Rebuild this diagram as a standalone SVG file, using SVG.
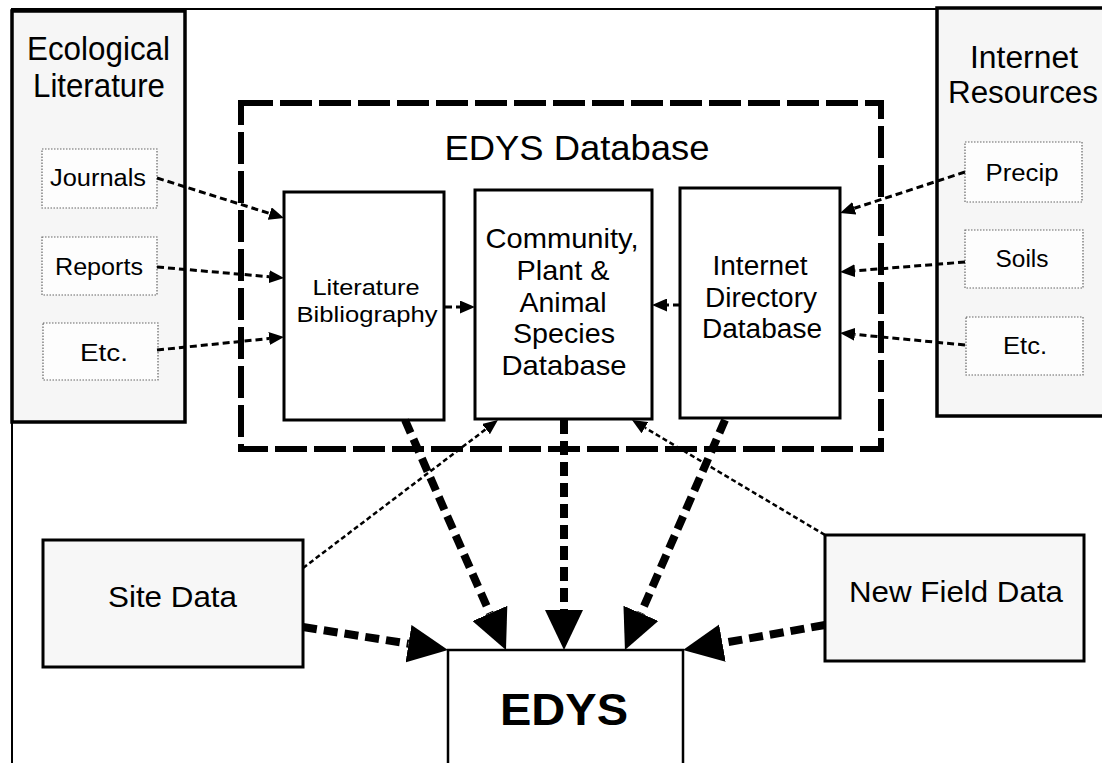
<svg xmlns="http://www.w3.org/2000/svg" width="1102" height="763" viewBox="0 0 1102 763">
<style>
.t{font-family:"Liberation Sans",Arial,sans-serif;fill:#000;text-anchor:middle}
.panel{fill:#f6f6f6;stroke:#000;stroke-width:3.5}
.src{fill:#fdfdfd;stroke:#666;stroke-width:1.2;stroke-dasharray:1.5 1.5}
.db{fill:#fff;stroke:#000;stroke-width:3}
.data{fill:#f7f7f7;stroke:#000;stroke-width:3}
.thin{fill:none;stroke:#000;stroke-width:3;stroke-dasharray:7 4}
.site{fill:none;stroke:#000;stroke-width:2.5;stroke-dasharray:5 3}
.thick{fill:none;stroke:#000;stroke-width:8;stroke-dasharray:14 7}
</style>
<defs>
<marker id="ah" markerUnits="userSpaceOnUse" markerWidth="15" markerHeight="13" viewBox="0 0 15 13" refX="0" refY="6.5" orient="auto"><path d="M0,0 L15,6.5 L0,13 z" fill="#000"/></marker>
<marker id="AH" markerUnits="userSpaceOnUse" markerWidth="40" markerHeight="38" viewBox="0 0 40 38" refX="0" refY="19" orient="auto"><path d="M0,0 L40,19 L0,38 z" fill="#000"/></marker>
</defs>
<rect width="1102" height="763" fill="#fff"/>
<g id="frame" fill="none" stroke="#000" stroke-width="2">
<path d="M12,763 L12,9 L1102,9"/>
</g>
<g id="ecological-literature">
<rect class="panel" x="12" y="11" width="173" height="411"/>
<text class="t" x="98.5" y="60" font-size="33" textLength="143" lengthAdjust="spacingAndGlyphs">Ecological</text>
<text class="t" x="99" y="97" font-size="33" textLength="132" lengthAdjust="spacingAndGlyphs">Literature</text>
</g>
<g id="journals"><rect class="src" x="42" y="149" width="115" height="59"/><text class="t" x="98" y="186" font-size="23" textLength="96" lengthAdjust="spacingAndGlyphs">Journals</text></g>
<g id="reports"><rect class="src" x="42" y="237" width="115" height="58"/><text class="t" x="99" y="275" font-size="23" textLength="88" lengthAdjust="spacingAndGlyphs">Reports</text></g>
<g id="etc-lit"><rect class="src" x="43" y="323" width="115" height="57"/><text class="t" x="104" y="361" font-size="23" textLength="48" lengthAdjust="spacingAndGlyphs">Etc.</text></g>
<g id="internet-resources">
<rect class="panel" x="937" y="8" width="175" height="408"/>
<text class="t" x="1024" y="68" font-size="31" textLength="108" lengthAdjust="spacingAndGlyphs">Internet</text>
<text class="t" x="1023" y="103" font-size="31" textLength="150" lengthAdjust="spacingAndGlyphs">Resources</text>
</g>
<g id="precip"><rect class="src" x="965" y="142" width="117" height="60"/><text class="t" x="1022" y="181" font-size="23" textLength="73" lengthAdjust="spacingAndGlyphs">Precip</text></g>
<g id="soils"><rect class="src" x="965" y="230" width="118" height="58"/><text class="t" x="1022" y="267" font-size="23" textLength="53" lengthAdjust="spacingAndGlyphs">Soils</text></g>
<g id="etc-net"><rect class="src" x="966" y="317" width="117" height="58"/><text class="t" x="1025" y="354" font-size="23" textLength="44" lengthAdjust="spacingAndGlyphs">Etc.</text></g>
<g id="edys-database">
<rect x="241" y="103" width="640" height="346" fill="none" stroke="#000" stroke-width="6" stroke-dasharray="32 7"/>
<text class="t" x="577" y="160" font-size="35" textLength="265" lengthAdjust="spacingAndGlyphs">EDYS Database</text>
</g>
<g id="literature-bibliography">
<rect class="db" x="284" y="192" width="160" height="228"/>
<text class="t" x="366" y="295" font-size="22" textLength="107" lengthAdjust="spacingAndGlyphs">Literature</text>
<text class="t" x="367" y="322" font-size="22" textLength="141" lengthAdjust="spacingAndGlyphs">Bibliography</text>
</g>
<g id="species-database">
<rect class="db" x="475" y="190" width="177" height="229"/>
<text class="t" x="562" y="248" font-size="28" textLength="153" lengthAdjust="spacingAndGlyphs">Community,</text>
<text class="t" x="563" y="280" font-size="28" textLength="93" lengthAdjust="spacingAndGlyphs">Plant &amp;</text>
<text class="t" x="563" y="312" font-size="28" textLength="87" lengthAdjust="spacingAndGlyphs">Animal</text>
<text class="t" x="564" y="343" font-size="28" textLength="102" lengthAdjust="spacingAndGlyphs">Species</text>
<text class="t" x="564" y="375" font-size="28" textLength="125" lengthAdjust="spacingAndGlyphs">Database</text>
</g>
<g id="internet-directory">
<rect class="db" x="680" y="188" width="160" height="230"/>
<text class="t" x="760" y="275" font-size="27" textLength="95" lengthAdjust="spacingAndGlyphs">Internet</text>
<text class="t" x="761" y="307" font-size="27" textLength="112" lengthAdjust="spacingAndGlyphs">Directory</text>
<text class="t" x="762" y="338" font-size="27" textLength="120" lengthAdjust="spacingAndGlyphs">Database</text>
</g>
<g id="site-data">
<rect class="data" x="43" y="540" width="260" height="127"/>
<text class="t" x="172.5" y="607" font-size="29" textLength="129" lengthAdjust="spacingAndGlyphs">Site Data</text>
</g>
<g id="new-field-data">
<rect class="data" x="825" y="535" width="259" height="126"/>
<text class="t" x="956" y="602" font-size="29" textLength="214" lengthAdjust="spacingAndGlyphs">New Field Data</text>
</g>
<g id="edys">
<path d="M448,763 L448,650 L683,650 L683,763" fill="#fff" stroke="#000" stroke-width="2.5"/>
<text class="t" x="564" y="725" font-size="45" font-weight="bold" textLength="128" lengthAdjust="spacingAndGlyphs">EDYS</text>
</g>
<g id="connectors">
<path class="thin" d="M157,178 L269.7,213.5" marker-end="url(#ah)"/>
<path class="thin" d="M157,267 L269.1,276.7" marker-end="url(#ah)"/>
<path class="thin" d="M157,350 L269.1,338.5" marker-end="url(#ah)"/>
<path class="thin" d="M965,172 L854.3,208.3" marker-end="url(#ah)"/>
<path class="thin" d="M965,262 L855,270.8" marker-end="url(#ah)"/>
<path class="thin" d="M965,345 L854.9,334.4" marker-end="url(#ah)"/>
<path class="thin" d="M445,307 L460,307" marker-end="url(#ah)"/>
<path class="thin" d="M680,305 L667,305" marker-end="url(#ah)"/>
<path class="site" d="M303,568 L486,429.1" marker-end="url(#ah)"/>
<path class="site" d="M825,535 L644.9,427.7" marker-end="url(#ah)"/>
<path class="thick" d="M405,420 L489.9,613.4" marker-end="url(#AH)"/>
<path class="thick" d="M564,420 L564,610" marker-end="url(#AH)"/>
<path class="thick" d="M725,420 L640.9,613.3" marker-end="url(#AH)"/>
<path class="thick" d="M303,627 L408.5,643.7" marker-end="url(#AH)"/>
<path class="thick" d="M825,625 L722.4,643.1" marker-end="url(#AH)"/>
</g>
</svg>
